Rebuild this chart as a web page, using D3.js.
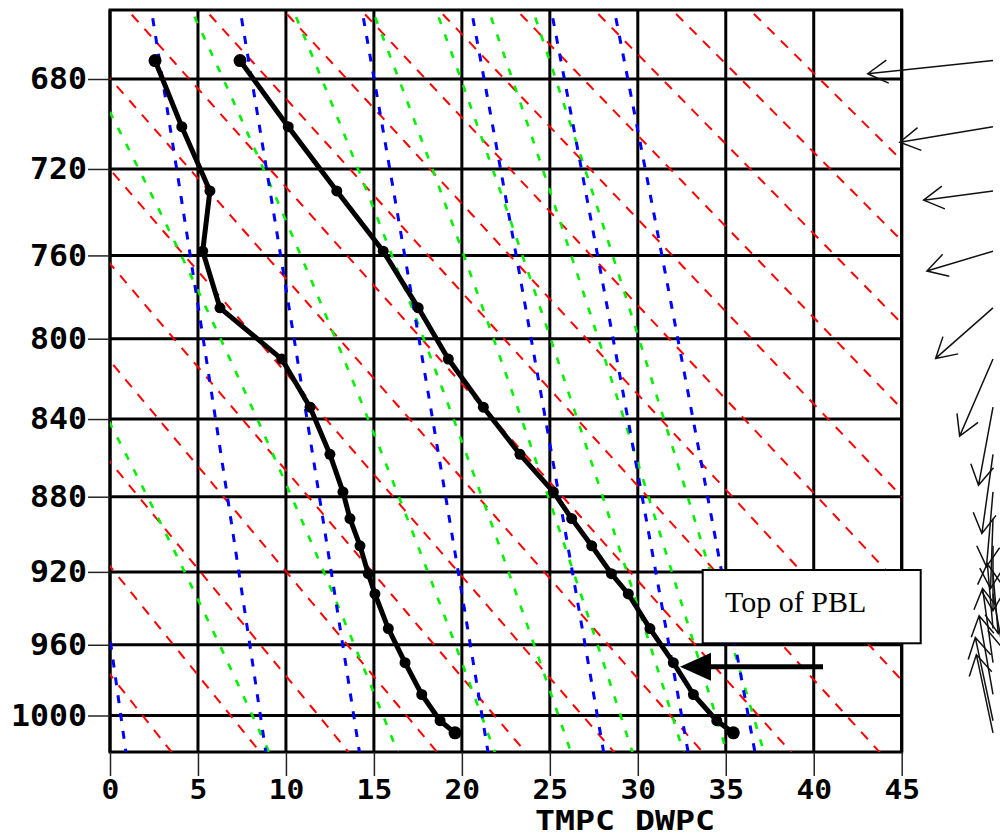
<!DOCTYPE html>
<html><head><meta charset="utf-8">
<script src="https://cdn.jsdelivr.net/npm/d3@7"></script>
<style>body{margin:0;background:#fff}svg{display:block}</style>
</head><body>
<svg id="chart" width="1000" height="837"></svg>
<script>
// ---- data ----
const tempTicks = [0,5,10,15,20,25,30,35,40,45];
const presTicks = [680,720,760,800,840,880,920,960,1000];
const levels = [672,701,730,758,785,810,834,858,877.5,891.5,906,921,932,951,970,988,1003,1010];
const tmpc   = [7.39,10.13,12.89,15.53,17.52,19.23,21.22,23.30,25.20,26.24,27.38,28.5,29.46,30.69,32.02,33.16,34.49,35.43];
const dwpc   = [2.56,4.08,5.68,5.27,6.25,9.76,11.37,12.50,13.24,13.64,14.21,14.68,15.06,15.82,16.77,17.72,18.76,19.61];
const windDir = [84,80.5,82.4,73.3,48.6,23.4,10.5,8,5,2,0,355,350,175,172,170,168,168];
const windSpd = [25.2,18.9,14.0,13.8,15.3,16.8,15.9,16,15,14,13,12,11,13,15,16,17,16];
const dryTheta = [270,275,280,285,290,295,300,305,310,315,320,325,330,335,340,345,350];
const moistThetaE = [280,300,320,340,360,380,400,420,440];
const mixRatio = [4,7,10,16,24,32,40];
const xTitle = "TMPC DWPC";
const noteText = "Top of PBL";

// ---- scales ----
const svg = d3.select("#chart");
const x = d3.scaleLinear().domain([0,45]).range([110,901.7]);
const y = d3.scalePow().exponent(0.2857).domain([680,1000]).range([79,715.5]);
const yTop = 10, yBot = 752, xL = x(0), xR = x(45);
const pTop = y.invert(yTop), pBot = y.invert(yBot);
const pSamples = d3.range(pTop-4, pBot+4, 2).concat([pBot+4]);

// thermo helpers
const es = t => 6.112*Math.exp(17.67*t/(t+243.5));
function thetaES(t,p){
  const T=t+273.15, e=es(t), w=622*e/(p-e);
  const th=T*Math.pow(1000/p,0.2854*(1-0.00028*w));
  return th*Math.exp((3.376/T-0.00254)*w*(1+0.00081*w));
}
function moistT(te,p){
  let lo=-70, hi=60;
  for(let i=0;i<50;i++){const m=(lo+hi)/2; if(thetaES(m,p)<te) lo=m; else hi=m;}
  return (lo+hi)/2;
}
function mixT(w,p){const e=w*p/(622+w), l=Math.log(e/6.112); return 243.5*l/(17.67-l);}

const line = d3.line().x(d=>x(d[0])).y(d=>y(d[1]));

svg.append("defs").append("clipPath").attr("id","plot")
  .append("rect").attr("x",xL).attr("y",yTop).attr("width",xR-xL).attr("height",yBot-yTop);

// grid
const grid = svg.append("g").attr("stroke","#000").attr("stroke-width",3);
grid.selectAll(".v").data(tempTicks).join("line")
  .attr("x1",d=>x(d)).attr("x2",d=>x(d)).attr("y1",yTop).attr("y2",yBot);
grid.selectAll(".h").data(presTicks).join("line")
  .attr("x1",xL).attr("x2",xR).attr("y1",d=>y(d)).attr("y2",d=>y(d));
grid.append("rect").attr("x",xL).attr("y",yTop).attr("width",xR-xL).attr("height",yBot-yTop).attr("fill","none");

const bg = svg.append("g").attr("clip-path","url(#plot)").attr("fill","none");
bg.selectAll(".dry").data(dryTheta).join("path")
  .attr("d",th=>line(pSamples.map(p=>[th*Math.pow(p/1000,0.2857)-273.15,p])))
  .attr("stroke","#ff0000").attr("stroke-width",2).attr("stroke-dasharray","10 9");
bg.selectAll(".moist").data(moistThetaE).join("path")
  .attr("d",te=>line(pSamples.map(p=>[moistT(te,p),p])))
  .attr("stroke","#00f000").attr("stroke-width",2.6).attr("stroke-dasharray","7 11");
bg.selectAll(".mix").data(mixRatio).join("path")
  .attr("d",w=>line(pSamples.map(p=>[mixT(w,p),p])))
  .attr("stroke","#0000ff").attr("stroke-width",3).attr("stroke-dasharray","8 10");

// axes
const monoFont = "DejaVu Sans Mono";
const yAxis = svg.append("g").attr("transform",`translate(${xL},0)`)
  .call(d3.axisLeft(y).tickValues(presTicks).tickSize(22).tickPadding(1).tickFormat(d3.format("d")));
yAxis.select(".domain").remove();
yAxis.selectAll("line").attr("stroke","#222").attr("stroke-width",1.5);
yAxis.selectAll("text").attr("font-family",monoFont).attr("font-weight","bold").attr("font-size",31).attr("fill","#000")
  .attr("textLength",d=>String(d).length*19).attr("lengthAdjust","spacingAndGlyphs");

const xAxis = svg.append("g").attr("transform",`translate(0,${yBot})`)
  .call(d3.axisBottom(x).tickValues(tempTicks).tickSize(24).tickPadding(0).tickFormat(d3.format("d")));
xAxis.select(".domain").remove();
xAxis.selectAll("line").attr("stroke","#222").attr("stroke-width",1.5);
xAxis.selectAll("text").attr("font-family",monoFont).attr("font-weight","bold").attr("font-size",26).attr("fill","#000")
  .attr("dy",null).attr("y",47)
  .attr("textLength",d=>String(d).length*17.8).attr("lengthAdjust","spacingAndGlyphs");

svg.append("text").attr("x",625).attr("y",830).attr("text-anchor","middle")
  .attr("font-family",monoFont).attr("font-weight","bold").attr("font-size",26)
  .attr("textLength",180).attr("lengthAdjust","spacingAndGlyphs").text(xTitle);

// soundings
const snd = svg.append("g");
[tmpc,dwpc].forEach(arr=>{
  const pts = levels.map((p,i)=>[arr[i],p]);
  snd.append("path").attr("d",line(pts)).attr("fill","none").attr("stroke","#000")
    .attr("stroke-width",5).attr("stroke-linejoin","round").attr("stroke-linecap","round");
  snd.append("g").selectAll("circle").data(pts).join("circle")
    .attr("cx",d=>x(d[0])).attr("cy",d=>y(d[1])).attr("r",(d,i)=>i===0||i===pts.length-1?6.5:5.5).attr("fill","#000");
});

// wind arrows
const spd = d3.scaleLinear().domain([0,10]).range([0,50]);
const xw = 993;
const wg = svg.append("g").attr("stroke","#111").attr("stroke-width",1.5).attr("fill","none");
levels.forEach((p,i)=>{
  const a = windDir[i]*Math.PI/180, L = spd(windSpd[i]);
  const tx = xw, ty = y(p);
  const dx = -Math.sin(a)*L, dy = Math.cos(a)*L;
  const hx = tx+dx, hy = ty+dy;
  const ang = Math.atan2(-dy,-dx);
  const b = 23, s = Math.PI/6;
  wg.append("path").attr("d",
    `M${tx},${ty}L${hx},${hy}M${hx+b*Math.cos(ang+s)},${hy+b*Math.sin(ang+s)}L${hx},${hy}L${hx+b*Math.cos(ang-s)},${hy+b*Math.sin(ang-s)}`);
});

// annotation
svg.append("rect").attr("x",702.7).attr("y",570).attr("width",218).attr("height",73.3)
  .attr("fill","#fff").attr("stroke","#000").attr("stroke-width",2);
svg.append("text").attr("x",725).attr("y",611.7).attr("font-family","Liberation Serif")
  .attr("font-size",30).text(noteText);
svg.append("line").attr("x1",823).attr("x2",708).attr("y1",666.7).attr("y2",666.7)
  .attr("stroke","#000").attr("stroke-width",5);
svg.append("path").attr("d","M680,666.7L711,652.7L711,680.7Z").attr("fill","#000");
</script>
</body></html>
